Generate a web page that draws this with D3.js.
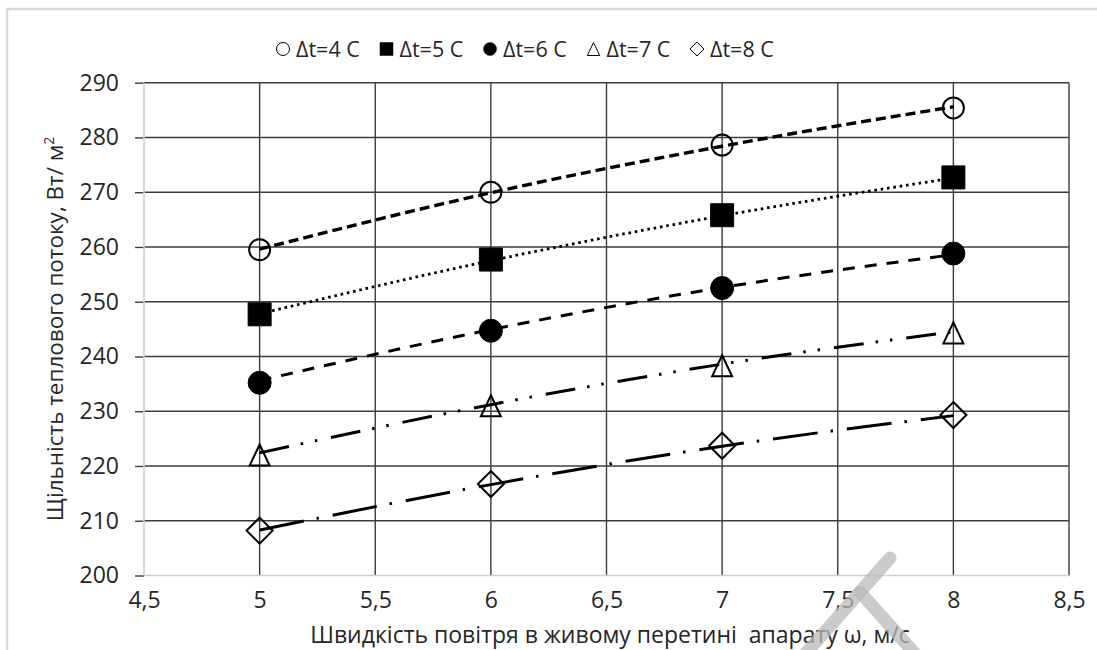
<!DOCTYPE html>
<html>
<head>
<meta charset="UTF-8" />
<title>Heat flux density</title>
<style>
    body {
        margin: 0;
        padding: 0;
        background: #fff;
    }
    text {
        font-family: "Open Sans", sans-serif;
        fill: #262626;
    }
</style>
</head>
<body>
<svg width="1097" height="650"></svg>
<script src="https://cdn.jsdelivr.net/npm/d3@7"></script>
<script>
    // --- data ---
    const velocity = [5, 6, 7, 8];
    const seriesNames = ["Δt=4 C", "Δt=5 C", "Δt=6 C", "Δt=7 C", "Δt=8 C"];

    const flux4 = [259.5, 270.0, 278.6, 285.4];
    const flux5 = [247.7, 257.7, 265.8, 272.7];
    const flux6 = [235.2, 244.7, 252.5, 258.8];
    const flux7 = [222.0, 231.0, 238.3, 244.3];
    const flux8 = [208.2, 216.7, 223.7, 229.3];

    // trend lines (as drawn, they run slightly off the markers)
    const trend4 = [259.6, 269.9, 278.4, 285.6];
    const trend5 = [247.8, 257.5, 265.7, 272.6];
    const trend6 = [235.6, 244.9, 252.6, 258.6];
    const trend7 = [222.4, 231.2, 238.6, 244.5];
    const trend8 = [208.3, 216.6, 223.6, 229.2];

    const xTicks = [4.5, 5, 5.5, 6, 6.5, 7, 7.5, 8, 8.5];
    const yTicks = [200, 210, 220, 230, 240, 250, 260, 270, 280, 290];

    const xTitle = "Швидкість повітря в живому перетині  апарату ω, м/с";
    const yTitle = "Щільність теплового потоку, Вт/ м";

    const svg = d3.select("svg");

    const x = d3.scaleLinear().domain([4.5, 8.5]).range([144, 1069]);
    const y = d3.scaleLinear().domain([200, 290]).range([575.5, 82.7]);

    // outer frame
    svg.append("rect")
        .attr("x", 7).attr("y", 9)
        .attr("width", 1100).attr("height", 660)
        .attr("fill", "none")
        .attr("stroke", "#d9d9d9")
        .attr("stroke-width", 2.5);

    // gridlines
    const grid = svg.append("g").attr("stroke", "#3c3c3c").attr("stroke-width", 1.4);
    grid.selectAll(".gy").data(yTicks.filter(d => d > 200)).enter().append("line")
        .attr("x1", x(4.5)).attr("x2", x(8.5))
        .attr("y1", d => y(d)).attr("y2", d => y(d));
    grid.selectAll(".gx").data(xTicks.filter(d => d > 4.5)).enter().append("line")
        .attr("x1", d => x(d)).attr("x2", d => x(d))
        .attr("y1", y(290)).attr("y2", y(200));

    // axes
    const yAxis = d3.axisLeft(y).tickValues(yTicks).tickSize(9).tickPadding(16)
        .tickFormat(d3.format("d"));
    const gy = svg.append("g").attr("transform", `translate(${x(4.5)},0)`).call(yAxis);
    gy.select(".domain").remove();
    gy.selectAll(".tick line").attr("stroke", "#3c3c3c").attr("stroke-width", 1.4);
    gy.selectAll(".tick text").attr("font-size", 23).attr("fill", "#262626");

    const xAxis = d3.axisBottom(x).tickValues(xTicks).tickSize(0).tickPadding(16)
        .tickFormat(d => String(d).replace(".", ","));
    const gx = svg.append("g").attr("transform", `translate(0,${y(200)})`).call(xAxis);
    gx.select(".domain").remove();
    gx.selectAll(".tick text").attr("font-size", 23).attr("fill", "#262626");

    // light axis lines
    svg.append("line")
        .attr("x1", x(4.5)).attr("x2", x(4.5)).attr("y1", y(290)).attr("y2", y(200))
        .attr("stroke", "#cfcfcf").attr("stroke-width", 1.6);
    svg.append("line")
        .attr("x1", x(4.5)).attr("x2", x(8.5)).attr("y1", y(200)).attr("y2", y(200))
        .attr("stroke", "#cfcfcf").attr("stroke-width", 1.6);

    // axis titles
    svg.append("text")
        .attr("x", 610).attr("y", 643)
        .attr("text-anchor", "middle")
        .attr("font-size", 23)
        .style("white-space", "pre")
        .text(xTitle);

    const yt = svg.append("text")
        .attr("transform", "translate(63,329) rotate(-90)")
        .attr("text-anchor", "middle")
        .attr("font-size", 22.5);
    yt.append("tspan").text(yTitle);
    yt.append("tspan").attr("dy", -9).attr("font-size", 14).text("2");

    // marker shapes
    function markerPath(kind, s) {
        const h = s / 2;
        if (kind === "circle" || kind === "dot") {
            return `M ${h} 0 A ${h} ${h} 0 1 1 ${-h} 0 A ${h} ${h} 0 1 1 ${h} 0 Z`;
        }
        if (kind === "square") return `M ${-h} ${-h} H ${h} V ${h} H ${-h} Z`;
        if (kind === "triangle") return `M 0 ${-h} L ${h * 0.95} ${h} L ${-h * 0.95} ${h} Z`;
        return `M 0 ${-h} L ${h} 0 L 0 ${h} L ${-h} 0 Z`;
    }

    const series = [
        { name: seriesNames[0], values: flux4, trend: trend4, kind: "circle", size: 21, dash: "10,5", width: 3.4 },
        { name: seriesNames[1], values: flux5, trend: trend5, kind: "square", size: 23, dash: "2.6,3.8", width: 2.8 },
        { name: seriesNames[2], values: flux6, trend: trend6, kind: "dot", size: 23, dash: "12,10", width: 3 },
        { name: seriesNames[3], values: flux7, trend: trend7, kind: "triangle", size: 21, dash: "30,12,2.5,12,2.5,14", width: 3 },
        { name: seriesNames[4], values: flux8, trend: trend8, kind: "diamond", size: 26, dash: "45,13,2.5,14", width: 3 }
    ];

    const filled = k => k === "square" || k === "dot";

    // markers
    series.forEach(s => {
        svg.append("g").selectAll("path")
            .data(s.values.map((v, i) => [velocity[i], v]))
            .enter().append("path")
            .attr("d", markerPath(s.kind, s.size))
            .attr("transform", d => `translate(${x(d[0])},${y(d[1])})`)
            .attr("fill", filled(s.kind) ? "#000" : "none")
            .attr("stroke", "#000")
            .attr("stroke-width", filled(s.kind) ? 1 : 2);
    });

    // trend lines on top
    const line = d3.line()
        .x((d, i) => x(velocity[i]))
        .y(d => y(d))
        .curve(d3.curveMonotoneX);

    series.forEach(s => {
        svg.append("path")
            .attr("d", line(s.trend))
            .attr("fill", "none")
            .attr("stroke", "#000")
            .attr("stroke-width", s.width)
            .attr("stroke-dasharray", s.dash);
    });

    // legend
    const lx = d3.scalePoint().domain(seriesNames).range([283, 697]);
    const leg = svg.append("g");
    series.forEach(s => {
        const g = leg.append("g").attr("transform", `translate(${lx(s.name)},49)`);
        g.append("path")
            .attr("d", markerPath(s.kind, s.kind === "diamond" ? 14 : 13))
            .attr("fill", filled(s.kind) ? "#000" : "none")
            .attr("stroke", "#000")
            .attr("stroke-width", filled(s.kind) ? 0.5 : 1);
        g.append("text")
            .attr("x", 13).attr("y", 8)
            .attr("font-size", 21.5)
            .text(s.name);
    });

    // watermark stroke
    const wm = svg.append("g")
        .attr("stroke", "rgba(185,185,185,0.75)")
        .attr("stroke-width", 13)
        .attr("stroke-linecap", "round")
        .attr("fill", "none");
    wm.append("path").attr("d", "M 890 558 L 800 660");
    wm.append("path").attr("d", "M 860 592 L 925 665");
</script>
</body>
</html>
